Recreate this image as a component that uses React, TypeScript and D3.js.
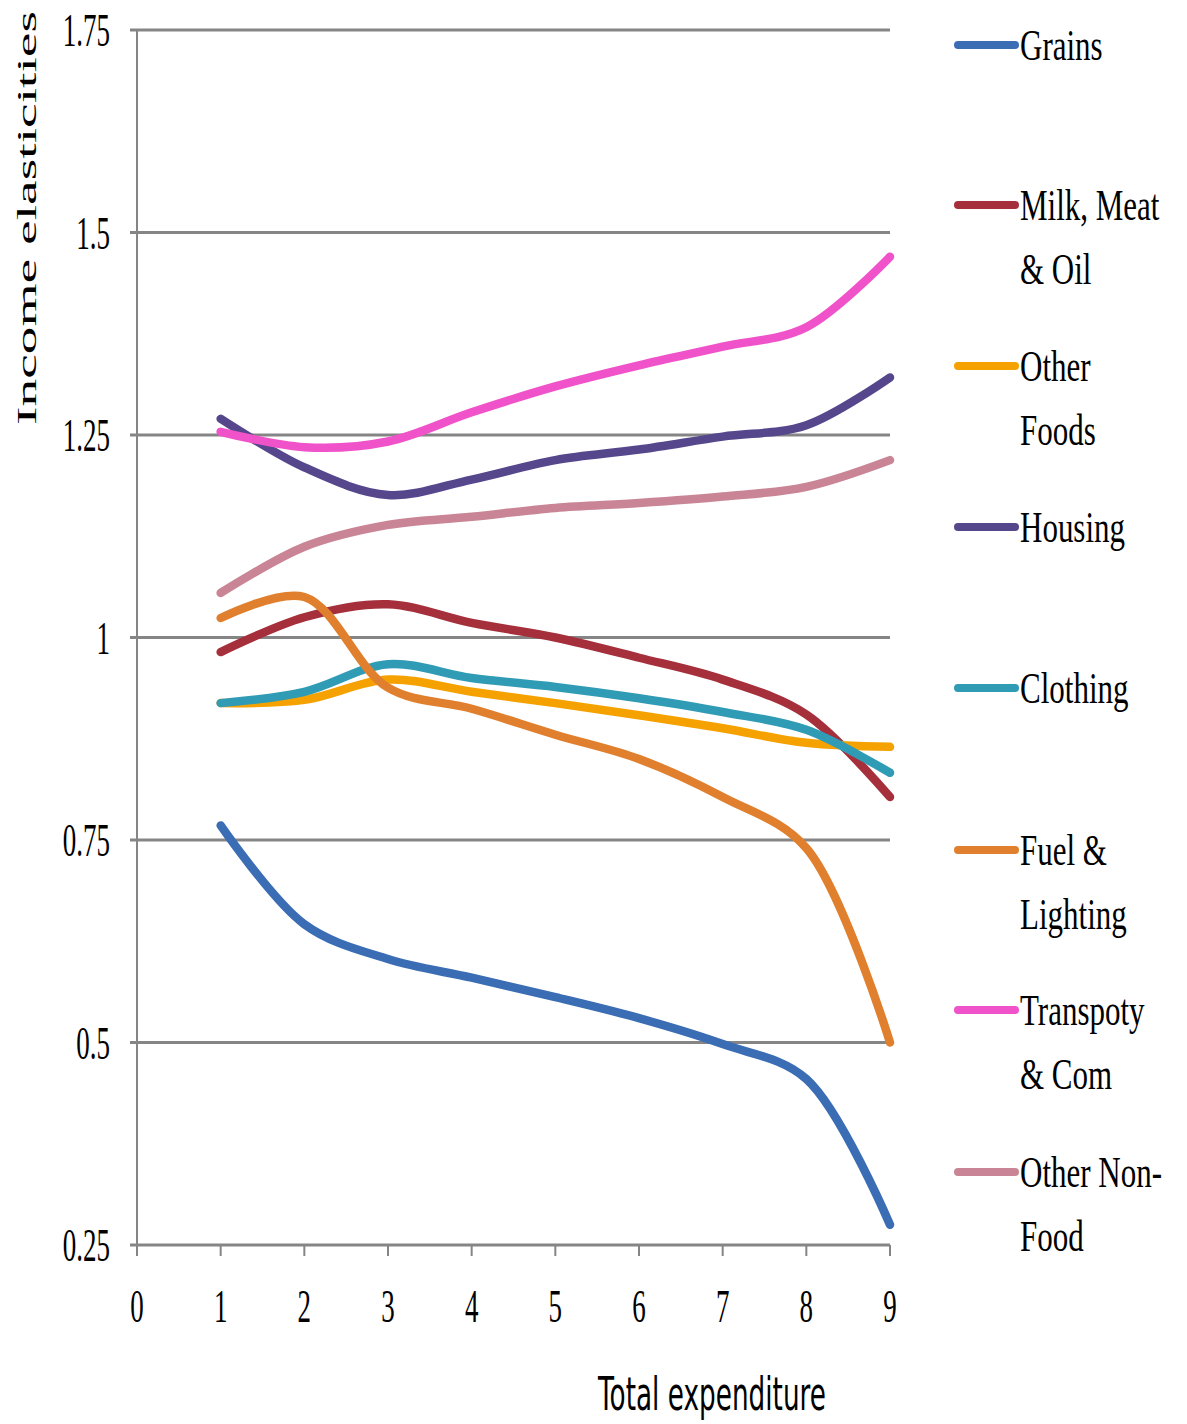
import React from "react";
import * as d3 from "d3";

// Expenditure deciles on the x axis
const expenditureLevels = [1, 2, 3, 4, 5, 6, 7, 8, 9];

// Income elasticities by commodity group
const grains = [0.768, 0.646, 0.603, 0.58, 0.556, 0.53, 0.498, 0.455, 0.275];
const milkMeatOil = [0.982, 1.025, 1.041, 1.018, 1.0, 0.975, 0.948, 0.905, 0.803];
const otherFoods = [0.919, 0.923, 0.948, 0.933, 0.919, 0.904, 0.888, 0.87, 0.865];
const housing = [1.27, 1.21, 1.176, 1.195, 1.219, 1.232, 1.248, 1.262, 1.321];
const clothing = [0.919, 0.933, 0.967, 0.95, 0.939, 0.925, 0.908, 0.886, 0.833];
const fuelLighting = [1.024, 1.05, 0.938, 0.912, 0.88, 0.85, 0.803, 0.74, 0.5];
const transportCom = [1.254, 1.235, 1.242, 1.278, 1.31, 1.336, 1.359, 1.383, 1.47];
const otherNonFood = [1.055, 1.112, 1.139, 1.149, 1.16, 1.166, 1.174, 1.186, 1.219];

const seriesNames = [
  ["Grains"],
  ["Milk, Meat", "& Oil"],
  ["Other", "Foods"],
  ["Housing"],
  ["Clothing"],
  ["Fuel &", "Lighting"],
  ["Transpoty", "& Com"],
  ["Other Non-", "Food"],
];
const seriesValues = [grains, milkMeatOil, otherFoods, housing, clothing, fuelLighting, transportCom, otherNonFood];
const seriesColors = ["#3b6db4", "#a5303b", "#f5a200", "#56478d", "#2f9bb4", "#e0802e", "#f052c9", "#c98595"];

const yTicks = [0.25, 0.5, 0.75, 1, 1.25, 1.5, 1.75];
const yTickLabels = ["0.25", "0.5", "0.75", "1", "1.25", "1.5", "1.75"];
const xTicks = [0, 1, 2, 3, 4, 5, 6, 7, 8, 9];

const W = 1187;
const H = 1424;
const left = 137;
const right = 890;
const top = 30;
const bottom = 1245;

const serif = "'Liberation Serif', 'Times New Roman', serif";

export default function App() {
  const x = d3.scaleLinear().domain([0, 9]).range([left, right]);
  const y = d3.scaleLinear().domain([0.25, 1.75]).range([bottom, top]);
  const line = d3
    .line<[number, number]>()
    .x((d) => x(d[0]))
    .y((d) => y(d[1]))
    .curve(d3.curveCatmullRom.alpha(0.5));

  const legendX = 958;
  const legendY = [45, 205, 366, 527, 688, 850, 1010, 1172];

  return (
    <svg
      width={W}
      height={H}
      style={{ position: "absolute", left: 0, top: 0, background: "#fff" }}
    >
      {/* horizontal gridlines */}
      {yTicks.map((t) => (
        <line key={t} x1={left - 7} x2={right} y1={y(t)} y2={y(t)} stroke="#858585" strokeWidth={3} />
      ))}
      {/* value axis */}
      <line x1={left} x2={left} y1={top} y2={bottom} stroke="#858585" strokeWidth={2} />
      {/* category ticks */}
      {xTicks.map((t) => (
        <line key={t} x1={x(t)} x2={x(t)} y1={bottom} y2={bottom + 11} stroke="#858585" strokeWidth={2} />
      ))}

      {/* y tick labels */}
      {yTicks.map((t, i) => (
        <g key={t} transform={`translate(110, ${y(t) + 16}) scale(1, 1.75)`}>
          <text textAnchor="end" fontFamily={serif} fontSize={27} fill="#000">
            {yTickLabels[i]}
          </text>
        </g>
      ))}
      {/* x tick labels */}
      {xTicks.map((t) => (
        <g key={t} transform={`translate(${x(t)}, ${1322}) scale(1, 1.75)`}>
          <text textAnchor="middle" fontFamily={serif} fontSize={27} fill="#000">
            {t}
          </text>
        </g>
      ))}

      {/* axis titles */}
      <text
        transform="translate(36, 218) rotate(-90)"
        textAnchor="middle"
        fontFamily={serif}
        fontSize={28}
        textLength={414}
        lengthAdjust="spacingAndGlyphs"
        fill="#000"
      >
        Income elasticities
      </text>
      <text
        x={598}
        y={1410}
        fontFamily="'DejaVu Sans', Verdana, sans-serif"
        fontSize={46}
        textLength={228}
        lengthAdjust="spacingAndGlyphs"
        fill="#000"
      >
        Total expenditure
      </text>

      {/* series lines */}
      {seriesValues.map((vals, i) => (
        <path
          key={i}
          d={line(expenditureLevels.map((e, j) => [e, vals[j]] as [number, number])) || ""}
          fill="none"
          stroke={seriesColors[i]}
          strokeWidth={8.5}
          strokeLinecap="round"
          strokeLinejoin="round"
        />
      ))}

      {/* legend */}
      {seriesNames.map((lines, i) => (
        <g key={i}>
          <line
            x1={legendX}
            x2={legendX + 57}
            y1={legendY[i]}
            y2={legendY[i]}
            stroke={seriesColors[i]}
            strokeWidth={8}
            strokeLinecap="round"
          />
          {lines.map((txt, k) => (
            <g key={k} transform={`translate(1020, ${legendY[i] + 15 + k * 64}) scale(1, 1.46)`}>
              <text fontFamily={serif} fontSize={31} fill="#000">
                {txt}
              </text>
            </g>
          ))}
        </g>
      ))}
    </svg>
  );
}
